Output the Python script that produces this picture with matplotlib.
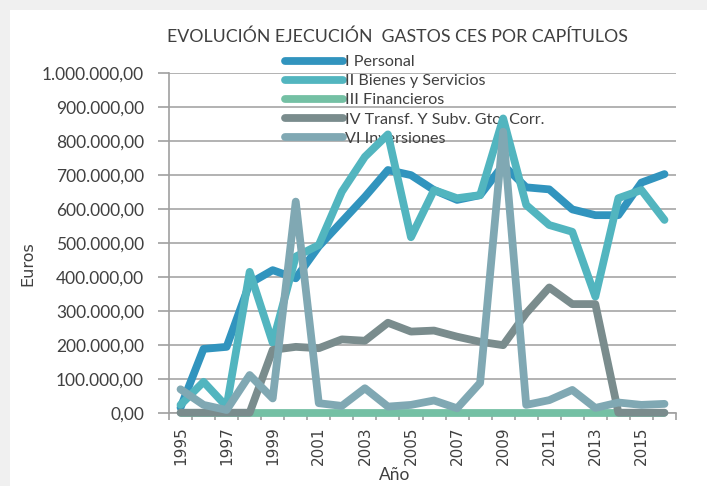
import matplotlib
matplotlib.use("Agg")
import matplotlib.pyplot as plt
from matplotlib import font_manager
from matplotlib.ticker import FuncFormatter, FixedLocator
from matplotlib.patches import Rectangle

# data (euros)
years = list(range(1995, 2017))
personal = [15000, 188000, 194000, 381000, 420000, 396000, 490000, 563000, 636000, 715000, 700000,
            656000, 627000, 641000, 730000, 664000, 658000, 599000, 582000, 582000, 678000, 703000]
bienes = [23000, 91000, 18000, 415000, 206000, 460000, 494000, 651000, 754000, 820000, 517000,
          656000, 632000, 641000, 867000, 612000, 553000, 533000, 342000, 632000, 656000, 568000]
financieros = [0] * 22
transf = [0, 0, 0, 0, 185000, 194000, 190000, 216000, 212000, 265000, 239000,
          242000, 224000, 209000, 199000, 293000, 369000, 320000, 320000, 0, 0, 0]
inversiones = [69000, 23000, 8000, 111000, 42000, 622000, 28000, 20000, 72000, 18000, 23000,
               36000, 13000, 88000, 828000, 23000, 37000, 67000, 14000, 30000, 23000, 26000]

labels = ["I Personal", "II Bienes y Servicios", "III Financieros",
          "IV Transf. Y Subv. Gto. Corr.", "VI Inversiones"]
colors = ["#3194BE", "#52B5BF", "#74C0A4", "#7A8C8D", "#80A8B3"]

names = {f.name for f in font_manager.fontManager.ttflist}
narrow = "Liberation Sans Narrow" if "Liberation Sans Narrow" in names else "DejaVu Sans"
main_font = "Lato"
txt = "#404040"

fig = plt.figure(figsize=(7.07, 4.86), dpi=100)
fig.patch.set_facecolor("#f0f0f0")
fig.add_artist(Rectangle((10 / 707, 0), 1, 1 - 10 / 486, transform=fig.transFigure,
                         facecolor="white", edgecolor="none", zorder=-10))

ax = fig.add_axes([169 / 707, 1 - 412.7 / 486, (676 - 169) / 707, (412.7 - 73.3) / 486])
ax.patch.set_alpha(0)

series = [personal, bienes, financieros, transf, inversiones]
for s, lab, c in zip(series, labels, colors):
    ax.plot(years, s, color=c, lw=5.6, label=lab, solid_joinstyle="round",
            solid_capstyle="round", clip_on=False, zorder=3)

ax.set_xlim(1994.5, 2016.5)
ax.set_ylim(0, 1000000)
ax.yaxis.set_major_locator(FixedLocator(range(0, 1000001, 100000)))
ax.yaxis.set_major_formatter(FuncFormatter(
    lambda v, p: "{:,.2f}".format(v).replace(",", "X").replace(".", ",").replace("X", ".")))
ax.grid(axis="y", color="#a6a6a6", lw=1.2)
ax.set_axisbelow(True)

ax.set_xticks([y + 0.5 for y in range(1994, 2017)], minor=True)
ax.set_xticks(years[::2])
ax.set_xticklabels([str(y) for y in years[::2]], rotation=90, fontfamily=narrow,
                   fontsize=11, color=txt)
ax.tick_params(axis="x", which="major", length=0, pad=10)
ax.tick_params(axis="x", which="minor", length=5, color="#a0a0a0", width=1.2)
ax.tick_params(axis="y", length=8, color="#a0a0a0", width=1.2, pad=10, labelsize=12.5,
               labelcolor=txt)
for t in ax.get_yticklabels():
    t.set_fontfamily(main_font)

for side in ["top", "right"]:
    ax.spines[side].set_visible(False)
ax.spines["left"].set_color("#a0a0a0")
ax.spines["left"].set_linewidth(1.2)
ax.spines["bottom"].set_color("#a0a0a0")
ax.spines["bottom"].set_linewidth(1.2)

fig.text(397 / 707, 1 - 37 / 486, "EVOLUCIÓN EJECUCIÓN  GASTOS CES POR CAPÍTULOS",
         ha="center", va="center", fontsize=12.8, color=txt, fontfamily=main_font)
fig.text(395 / 707, 1 - 475 / 486, "Año", ha="center", va="center", fontsize=12.5,
         color=txt, fontfamily=main_font)
fig.text(28 / 707, 1 - 264 / 486, "Euros", ha="center", va="center", rotation=90,
         fontsize=11.5, color=txt, fontfamily=narrow)

leg = ax.legend(loc="upper left", bbox_to_anchor=(285 / 707, 1 - 55 / 486),
                bbox_transform=fig.transFigure, frameon=False, borderpad=0,
                borderaxespad=0, handlelength=3.6, handletextpad=0.15, labelspacing=0.3,
                prop={"family": main_font, "size": 11.6})
leg.set_zorder(2)
for t in leg.get_texts():
    t.set_color(txt)
for h in leg.get_lines():
    h.set_linewidth(5.6)

fig.savefig("out.png", dpi=100)
